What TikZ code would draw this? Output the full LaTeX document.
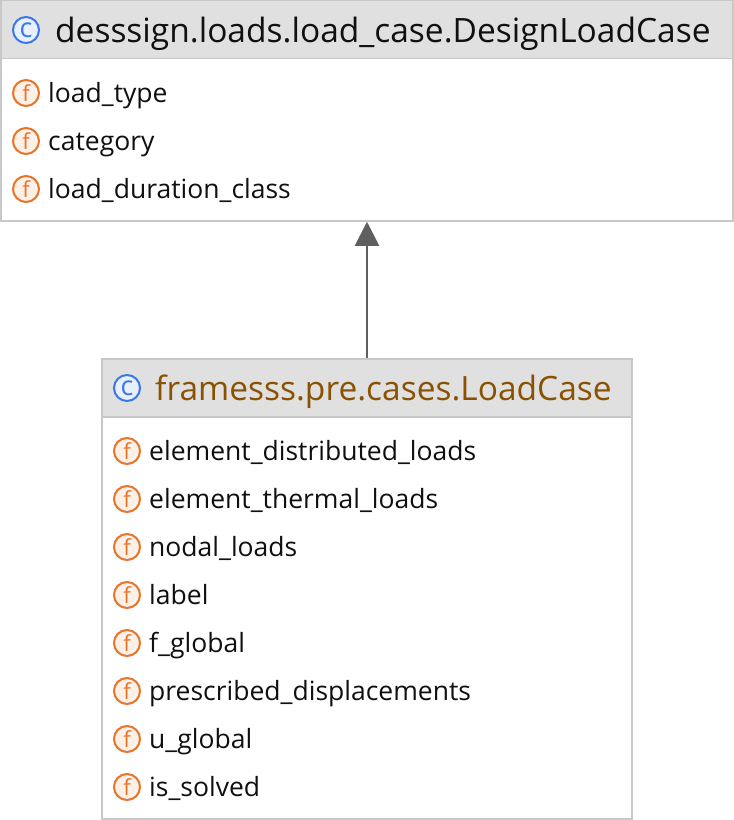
\documentclass[tikz,border=0pt]{standalone}
\usepackage{fontspec}
\setmainfont{Open Sans}
\usetikzlibrary{arrows.meta}
\definecolor{headgray}{HTML}{E0E0E0}
\definecolor{rulegray}{HTML}{C8C8C8}
\definecolor{arrowgray}{HTML}{5F5F5F}
\definecolor{classblue}{HTML}{3B78E7}
\definecolor{classfill}{HTML}{E8F0FE}
\definecolor{fieldorange}{HTML}{E8732A}
\definecolor{fieldfill}{HTML}{FDF0E7}
\definecolor{titlebrown}{HTML}{8A5200}
\definecolor{textblack}{HTML}{101010}
\tikzset{
  classbox/.style={draw=rulegray,line width=1.5pt,minimum height=#1,inner sep=0pt},
  headbox/.style={fill=headgray,draw=rulegray,line width=1.5pt,inner sep=0pt},
  classicon/.style={circle,draw=classblue,fill=classfill,line width=2pt,minimum size=26pt,inner sep=0pt,text=classblue,font=\fontsize{27}{27}\selectfont},
  fieldicon/.style={circle,draw=fieldorange,fill=fieldfill,line width=2pt,minimum size=26pt,inner sep=0pt,text=fieldorange,font=\fontsize{22}{22}\selectfont},
  titletext/.style={anchor=base west,inner sep=0pt,font=\fontsize{33.5}{34}\selectfont},
  fieldtext/.style={anchor=base west,inner sep=0pt,text=textblack,font=\fontsize{26.5}{27}\selectfont},
  inherit/.style={draw=arrowgray,line width=2pt,-{Triangle[length=24pt,width=24pt]}}
}
\begin{document}
\begin{tikzpicture}[x=1pt,y=-1pt]
    \useasboundingbox (0,0) rectangle (734,820);
    % base class
    \node[classbox=221pt,minimum width=732pt] (designcase) at (367,110.5) {};
    \node[headbox,minimum width=732pt,minimum height=58pt] (designhead) at (367,29.5) {};
    \node[classicon] (designicon) at (26,30) {c};
    \node[titletext,text=textblack] (designtitle) at (55,42) {desssign.loads.load\_case.DesignLoadCase};
    \foreach \name/\ypos/\lab in {loadtype/93/load\_type,category/141/category,duration/189/load\_duration\_class}
    {
        \node[fieldicon] (\name icon) at (26,\ypos) {f};
        \node[fieldtext] (\name) at (48,\ypos+9) {\lab};
    }
    % sub class
    \node[classbox=460pt,minimum width=530pt] (loadcase) at (367,589) {};
    \node[headbox,minimum width=530pt,minimum height=58pt] (loadhead) at (367,388) {};
    \node[classicon] (caseicon) at (127,388) {c};
    \node[titletext,text=titlebrown] (casetitle) at (155,400) {framesss.pre.cases.LoadCase};
    \foreach \name/\ypos/\lab in {distributed/451/element\_distributed\_loads,thermal/499/element\_thermal\_loads,nodal/547/nodal\_loads,label/595/label,fglobal/643/f\_global,prescribed/691/prescribed\_displacements,uglobal/739/u\_global,solved/787/is\_solved}
    {
        \node[fieldicon] (\name icon) at (127,\ypos) {f};
        \node[fieldtext] (\name) at (149,\ypos+9) {\lab};
    }
    \draw[inherit] (loadhead.north) -- (designcase.south);
\end{tikzpicture}
\end{document}
